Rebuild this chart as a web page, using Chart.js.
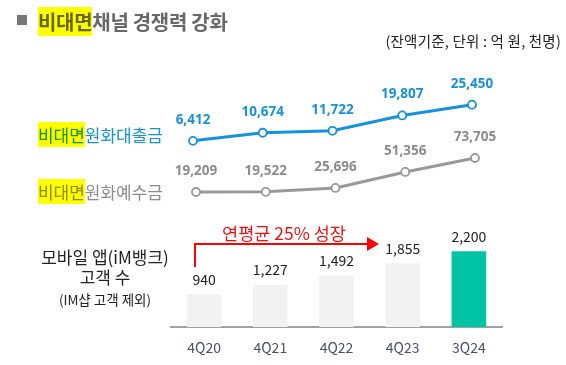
<!DOCTYPE html>
<html>
<head>
<meta charset="utf-8">
<script src="https://cdn.jsdelivr.net/npm/chart.js@4.4.1/dist/chart.umd.min.js"></script>
<style>
  html, body { margin: 0; padding: 0; background: #fff; }
  #wrap { position: relative; width: 566px; height: 365px; overflow: hidden; font-family: "Noto Sans CJK KR", "Noto Sans", sans-serif; }
  canvas { position: absolute; left: 0; top: 0; }
  .txt { position: absolute; white-space: nowrap; }
  .hl { position: relative; }
  .hl::after { content: ''; position: absolute; left: 0; right: 0; top: 0; bottom: 0; background: #ffff00; mix-blend-mode: multiply; }
  #sq { position: absolute; left: 17px; top: 15px; width: 10px; height: 10px; background: #777; }
  #title { left: 38px; top: 10px; font-size: 20px; line-height: 23px; font-weight: bold; color: #686868; letter-spacing: -0.3px; }
  #unit { right: 5px; top: 33px; font-size: 14.5px; line-height: 16px; color: #222; letter-spacing: 0.2px; }
  .serie { right: 403px; font-size: 17px; line-height: 16px; }
  #lblLoan { top: 127px; color: #1592dc; }
  #lblDep { top: 184px; color: #8c8c8c; }
  .app { left: 20px; width: 170px; text-align: center; color: #222; }
  #arrowTxt { left: 200px; width: 168px; top: 224px; text-align: center; color: #ee1111; font-size: 17.5px; line-height: 18px; }
</style>
</head>
<body>
<div id="wrap">
  <canvas id="lineas" width="566" height="365"></canvas>
  <canvas id="barras" width="566" height="365"></canvas>

  <div id="sq"></div>
  <div id="title" class="txt"><span class="hl">비대면</span>채널 경쟁력 강화</div>
  <div id="unit" class="txt">(잔액기준, 단위 : 억 원, 천명)</div>

  <div id="lblLoan" class="txt serie"><span class="hl">비대면</span>원화대출금</div>
  <div id="lblDep" class="txt serie"><span class="hl">비대면</span>원화예수금</div>

  <div class="txt app" style="top:248px;font-size:17px;line-height:18px;">모바일 앱(iM뱅크)</div>
  <div class="txt app" style="top:268px;font-size:17px;line-height:18px;">고객 수</div>
  <div class="txt app" style="top:291px;font-size:13.5px;line-height:16px;">(IM샵 고객 제외)</div>

  <svg style="position:absolute;left:0;top:0" width="566" height="365">
    <polyline points="195,267 195,244 369,244" fill="none" stroke="#f00" stroke-width="2"/>
    <polygon points="367,237 379,244 367,251" fill="#f00"/>
  </svg>
  <div id="arrowTxt" class="txt">연평균 25% 성장</div>
</div>

<script>
// datos
const trimestres = ['4Q20', '4Q21', '4Q22', '4Q23', '3Q24'];
const prestamos = [6412, 10674, 11722, 19807, 25450];   // 비대면 원화대출금 (억 원)
const depositos = [19209, 19522, 25696, 51356, 73705];  // 비대면 원화예수금 (억 원)
const clientesApp = [940, 1227, 1492, 1855, 2200];      // 모바일 앱 고객 수 (천명)

const azul = '#1592dc';
const gris = '#999999';

function formatear(v) {
    return v.toLocaleString('en-US');
}

// etiquetas de valor sobre los puntos
const etiquetasLineas = {
    id: 'etiquetasLineas',
    afterDatasetsDraw(chart) {
        const ctx = chart.ctx;
        chart.data.datasets.forEach((ds, i) => {
            const meta = chart.getDatasetMeta(i);
            ctx.save();
            ctx.font = 'bold 13.5px "Open Sans", sans-serif';
            ctx.fillStyle = ds.colorEtiqueta;
            ctx.textAlign = 'center';
            ctx.textBaseline = 'alphabetic';
            meta.data.forEach((pt, j) => {
                ctx.fillText(formatear(ds.data[j].y), pt.x, pt.y - 17);
            });
            ctx.restore();
        });
    }
};

const etiquetasBarras = {
    id: 'etiquetasBarras',
    afterDatasetsDraw(chart) {
        const ctx = chart.ctx;
        const meta = chart.getDatasetMeta(0);
        ctx.save();
        ctx.font = '14px "Noto Sans CJK KR", sans-serif';
        ctx.fillStyle = '#222';
        ctx.textAlign = 'center';
        ctx.textBaseline = 'alphabetic';
        meta.data.forEach((bar, j) => {
            ctx.fillText(formatear(clientesApp[j]), bar.x, bar.y - 10);
        });
        ctx.restore();
    }
};

new Chart(document.getElementById('lineas'), {
    type: 'line',
    data: {
        datasets: [{
            label: '비대면 원화대출금',
            data: prestamos.map((v, i) => ({ x: i, y: v })),
            xAxisID: 'x',
            yAxisID: 'y',
            borderColor: azul,
            borderWidth: 3,
            pointRadius: 4,
            pointBorderWidth: 1.8,
            pointBackgroundColor: '#fff',
            pointBorderColor: azul,
            clip: false,
            colorEtiqueta: azul
        }, {
            label: '비대면 원화예수금',
            data: depositos.map((v, i) => ({ x: i, y: v })),
            xAxisID: 'x2',
            yAxisID: 'y2',
            borderColor: gris,
            borderWidth: 3,
            pointRadius: 4,
            pointBorderWidth: 1.8,
            pointBackgroundColor: '#fff',
            pointBorderColor: gris,
            clip: false,
            colorEtiqueta: '#8c8c8c'
        }]
    },
    options: {
        responsive: false,
        animation: false,
        layout: { padding: { left: 193, right: 94, top: 60, bottom: 155 } },
        plugins: { legend: { display: false }, tooltip: { enabled: false } },
        scales: {
            x: { type: 'linear', display: false, min: 0, max: 4 },
            x2: { type: 'linear', display: false, min: -0.043, max: 3.957 },
            y: { display: false, min: -30000, max: 49000 },
            y2: { display: false, min: -9600, max: 230700 }
        }
    },
    plugins: [etiquetasLineas]
});

new Chart(document.getElementById('barras'), {
    type: 'bar',
    data: {
        labels: trimestres,
        datasets: [{
            label: '모바일 앱 고객 수',
            data: clientesApp,
            backgroundColor: clientesApp.map((_, i) => i === clientesApp.length - 1 ? '#00c4a4' : '#f2f2f2'),
            barThickness: 34
        }]
    },
    options: {
        responsive: false,
        animation: false,
        layout: { padding: { left: 171, right: 64, top: 238, bottom: 0 } },
        plugins: { legend: { display: false }, tooltip: { enabled: false } },
        scales: {
            x: {
                grid: { display: false, drawTicks: false },
                border: { display: true, color: '#a0a0a0', width: 2 },
                ticks: { color: '#4a5262', font: { size: 14, family: '"Noto Sans CJK KR", sans-serif' }, padding: 12 },
                afterFit(scale) { scale.height = 38; }
            },
            y: { display: false, min: 0, max: 2600 }
        }
    },
    plugins: [etiquetasBarras]
});
</script>
</body>
</html>
